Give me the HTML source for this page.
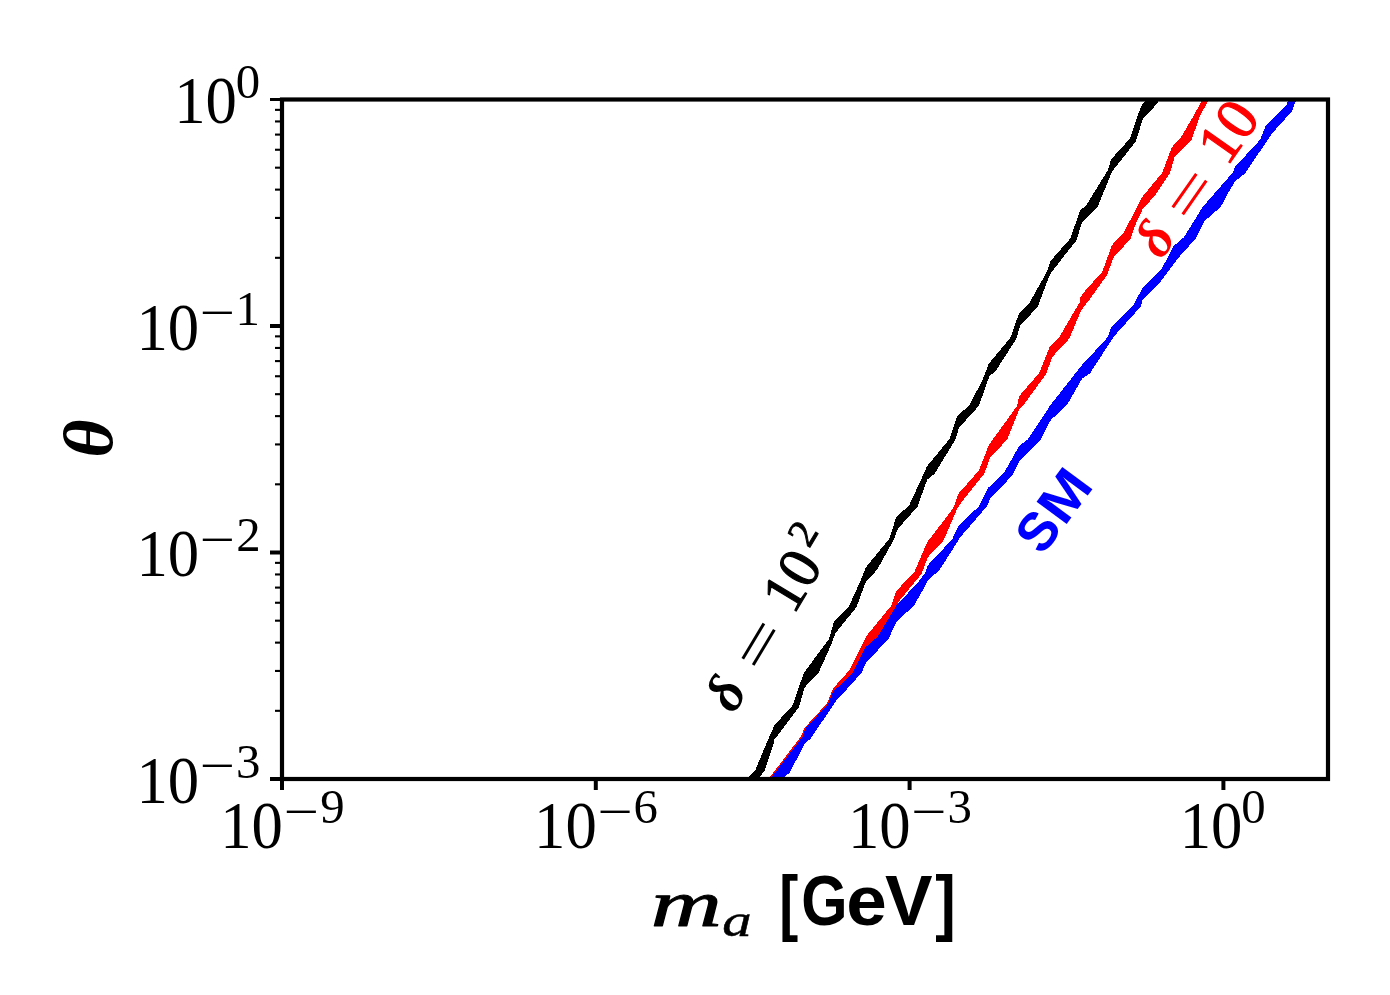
<!DOCTYPE html>
<html lang="en"><head><meta charset="utf-8"><title>theta vs m_a</title>
<style>html,body{margin:0;padding:0;background:#fff;}body{width:1390px;height:995px;overflow:hidden;}svg{display:block;}.r{font-family:"Liberation Serif","DejaVu Serif",serif;}.s{font-family:"Liberation Sans","DejaVu Sans",sans-serif;font-weight:bold;}</style></head><body>
<svg width="1390" height="995" viewBox="0 0 1390 995">
<rect width="1390" height="995" fill="#fff"/>
<defs><clipPath id="ax"><rect x="282" y="99.5" width="1046" height="679.5"/></clipPath></defs>
<g clip-path="url(#ax)">
<path d="M746.5 781.0 L748.9 777.1 L755.4 770.1 L758.6 762.0 L771.5 731.8 L773.2 728.0 L774.8 724.8 L792.6 705.4 L795.3 697.8 L799.5 685.0 L804.3 672.3 L829.1 638.8 L834.0 621.5 L849.1 605.9 L859.5 583.0 L865.9 567.4 L889.6 538.3 L896.1 517.2 L909.1 505.4 L919.5 483.0 L927.0 466.3 L949.6 438.8 L957.2 416.1 L969.1 405.4 L982.0 381.0 L988.8 363.7 L1010.4 337.8 L1019.0 313.3 L1028.3 304.7 L1046.3 273.0 L1050.6 260.8 L1070.2 238.7 L1080.3 210.0 L1086.0 205.6 L1108.1 169.8 L1110.9 159.5 L1129.9 138.7 L1137.8 115.0 L1142.3 104.2 L1144.5 101.8 L1147.0 96.0 L1161.0 96.0 L1158.1 101.8 L1156.7 104.2 L1143.0 118.6 L1135.7 141.6 L1111.9 171.8 L1097.6 207.1 L1081.7 222.9 L1076.7 240.2 L1063.0 257.4 L1049.9 274.5 L1037.7 306.8 L1020.4 325.5 L1016.1 339.2 L995.3 371.6 L989.5 375.9 L978.8 405.9 L958.8 428.0 L955.6 439.3 L934.5 473.9 L927.5 479.3 L925.2 484.9 L917.7 506.4 L897.7 529.1 L894.0 539.3 L877.2 569.6 L866.4 581.4 L865.2 583.2 L856.6 607.0 L835.6 632.9 L830.7 645.8 L818.8 672.3 L804.5 687.6 L799.1 707.0 L784.5 726.4 L774.2 739.9 L773.7 743.7 L764.5 770.6 L760.2 776.6 L757.0 781.0Z" fill="#000" shape-rendering="crispEdges"/>
<path d="M767.0 781.0 L769.9 777.1 L801.2 736.1 L804.5 728.0 L827.1 703.2 L832.5 689.7 L834.5 686.8 L849.1 670.6 L866.3 636.1 L891.1 605.9 L896.0 591.3 L914.5 571.7 L926.9 542.6 L953.3 508.1 L958.2 494.0 L978.8 470.6 L989.0 444.7 L1017.1 405.9 L1019.2 396.2 L1039.1 373.0 L1049.9 346.4 L1059.3 337.1 L1079.7 302.2 L1080.3 297.6 L1083.2 293.0 L1102.4 271.6 L1111.9 245.2 L1123.5 233.0 L1142.2 197.0 L1162.3 172.6 L1171.7 147.4 L1181.0 137.3 L1194.0 115.0 L1201.3 101.8 L1204.5 96.0 L1211.0 96.0 L1207.8 101.8 L1200.4 115.0 L1191.1 140.9 L1174.5 157.4 L1170.2 172.6 L1155.1 195.6 L1142.9 208.5 L1135.0 225.8 L1130.6 238.7 L1113.2 257.9 L1107.3 274.6 L1090.1 298.8 L1081.2 310.3 L1069.4 338.5 L1052.1 357.2 L1046.3 373.7 L1022.5 406.4 L1019.8 408.1 L1007.4 439.3 L990.1 457.7 L984.2 473.9 L961.9 501.6 L957.1 509.1 L953.8 516.7 L943.6 540.4 L927.9 557.2 L921.5 573.9 L898.7 601.6 L896.5 605.9 L896.2 612.4 L881.7 636.7 L872.5 644.7 L869.2 647.4 L857.4 671.7 L842.3 686.8 L837.6 690.3 L832.2 703.7 L809.5 728.6 L806.3 737.2 L775.5 777.0 L772.5 781.0Z" fill="#f00" shape-rendering="crispEdges"/>
<path d="M768.5 781.0 L771.5 777.0 L802.3 737.2 L805.5 728.6 L828.2 703.7 L833.6 690.3 L838.3 686.8 L853.4 671.7 L865.2 647.4 L868.5 644.7 L877.7 636.7 L892.2 612.4 L896.5 605.4 L918.1 582.2 L925.2 572.8 L927.9 565.2 L952.2 539.3 L958.2 526.4 L979.2 505.9 L988.4 487.6 L1004.7 471.7 L1019.2 445.8 L1027.9 439.3 L1036.9 425.6 L1050.3 405.3 L1080.5 366.8 L1085.3 361.2 L1103.4 342.2 L1108.2 336.3 L1111.1 327.0 L1133.4 305.4 L1142.7 287.4 L1161.0 270.0 L1173.8 245.9 L1183.9 237.3 L1202.6 207.1 L1232.8 172.6 L1235.1 166.8 L1260.3 139.5 L1265.3 126.5 L1286.2 105.7 L1287.6 101.8 L1289.5 96.0 L1297.5 96.0 L1295.5 101.8 L1291.9 111.4 L1271.8 133.7 L1245.2 173.3 L1235.1 181.2 L1227.1 194.9 L1220.6 207.1 L1204.7 220.8 L1196.1 238.0 L1178.8 257.4 L1160.0 282.4 L1142.7 299.6 L1140.6 306.8 L1114.0 336.3 L1090.0 373.3 L1082.2 378.5 L1067.1 404.8 L1059.3 412.6 L1051.1 419.5 L1047.7 425.6 L1040.8 439.3 L1020.3 459.9 L1013.3 473.9 L1002.0 486.8 L990.0 498.9 L987.3 505.9 L960.3 537.2 L939.8 569.6 L927.4 580.9 L924.7 586.8 L913.8 605.9 L897.1 621.0 L887.9 639.9 L866.3 662.0 L861.5 672.8 L849.1 686.8 L836.3 700.5 L810.9 738.3 L804.5 744.2 L789.9 772.3 L784.5 777.1 L780.0 781.0Z" fill="#00f" shape-rendering="crispEdges"/>
<g transform="translate(736.50,710.50) rotate(-59)" fill="#000" color="#000"><text class="r"><tspan x="-4.88" y="0.00" font-size="55" font-style="italic" font-weight="bold">δ</tspan> <tspan x="43.29" y="4.80" font-size="60.7" textLength="49.73" lengthAdjust="spacingAndGlyphs">=</tspan> <tspan x="110.86" y="0.00" font-size="59.3" textLength="58.35" lengthAdjust="spacingAndGlyphs" stroke="currentColor" stroke-width="1.1" stroke-linejoin="round">10</tspan><tspan x="175.72" y="-21.00" font-size="40.5" stroke="currentColor" stroke-width="0.9" stroke-linejoin="round">2</tspan></text></g>
<g transform="translate(1162.90,258.70) rotate(-55)" fill="#f00" color="#f00"><text class="r"><tspan x="-2.38" y="0.00" font-size="55" font-style="italic" font-weight="bold">δ</tspan> <tspan x="43.29" y="4.80" font-size="60.7" textLength="49.73" lengthAdjust="spacingAndGlyphs">=</tspan> <tspan x="111.71" y="0.00" font-size="59.3" textLength="60.07" lengthAdjust="spacingAndGlyphs" stroke="currentColor" stroke-width="1.1" stroke-linejoin="round">10</tspan></text></g>
<g transform="translate(1045.00,553.10) rotate(-53.5)" fill="#00f" color="#00f"><text class="s"><tspan x="-4.14" y="0.00" font-size="54.5" textLength="35.41" lengthAdjust="spacingAndGlyphs">S</tspan><tspan x="32.26" y="0.00" font-size="54.5" textLength="51.48" lengthAdjust="spacingAndGlyphs">M</tspan></text></g>
</g>
<g stroke="#000" fill="none">
<line x1="270" x2="282" y1="99.50" y2="99.50" stroke-width="3"/>
<line x1="270" x2="282" y1="326.00" y2="326.00" stroke-width="4"/>
<line x1="270" x2="282" y1="552.50" y2="552.50" stroke-width="4"/>
<line x1="270" x2="282" y1="779.00" y2="779.00" stroke-width="4"/>
<line x1="275" x2="282" y1="257.82" y2="257.82" stroke-width="2.1"/>
<line x1="275" x2="282" y1="217.93" y2="217.93" stroke-width="2.1"/>
<line x1="275" x2="282" y1="189.63" y2="189.63" stroke-width="2.1"/>
<line x1="275" x2="282" y1="167.68" y2="167.68" stroke-width="2.1"/>
<line x1="275" x2="282" y1="149.75" y2="149.75" stroke-width="2.1"/>
<line x1="275" x2="282" y1="134.59" y2="134.59" stroke-width="2.1"/>
<line x1="275" x2="282" y1="121.45" y2="121.45" stroke-width="2.1"/>
<line x1="275" x2="282" y1="109.86" y2="109.86" stroke-width="2.1"/>
<line x1="275" x2="282" y1="484.32" y2="484.32" stroke-width="2.1"/>
<line x1="275" x2="282" y1="444.43" y2="444.43" stroke-width="2.1"/>
<line x1="275" x2="282" y1="416.13" y2="416.13" stroke-width="2.1"/>
<line x1="275" x2="282" y1="394.18" y2="394.18" stroke-width="2.1"/>
<line x1="275" x2="282" y1="376.25" y2="376.25" stroke-width="2.1"/>
<line x1="275" x2="282" y1="361.09" y2="361.09" stroke-width="2.1"/>
<line x1="275" x2="282" y1="347.95" y2="347.95" stroke-width="2.1"/>
<line x1="275" x2="282" y1="336.36" y2="336.36" stroke-width="2.1"/>
<line x1="275" x2="282" y1="710.82" y2="710.82" stroke-width="2.1"/>
<line x1="275" x2="282" y1="670.93" y2="670.93" stroke-width="2.1"/>
<line x1="275" x2="282" y1="642.63" y2="642.63" stroke-width="2.1"/>
<line x1="275" x2="282" y1="620.68" y2="620.68" stroke-width="2.1"/>
<line x1="275" x2="282" y1="602.75" y2="602.75" stroke-width="2.1"/>
<line x1="275" x2="282" y1="587.59" y2="587.59" stroke-width="2.1"/>
<line x1="275" x2="282" y1="574.45" y2="574.45" stroke-width="2.1"/>
<line x1="275" x2="282" y1="562.86" y2="562.86" stroke-width="2.1"/>
<line x1="282.00" x2="282.00" y1="779" y2="790" stroke-width="4"/>
<line x1="595.80" x2="595.80" y1="779" y2="790" stroke-width="4"/>
<line x1="909.60" x2="909.60" y1="779" y2="790" stroke-width="4"/>
<line x1="1223.40" x2="1223.40" y1="779" y2="790" stroke-width="4"/>
</g>
<rect x="282.0" y="99.5" width="1046.0" height="679.5" fill="none" stroke="#000" stroke-width="4.2"/>
<g fill="#000" color="#000">
<text class="r"><tspan x="174.18" y="123.10" font-size="68.2" textLength="62.70" lengthAdjust="spacingAndGlyphs">10</tspan><tspan x="235.75" y="98.40" font-size="48.8">0</tspan></text>
<text class="r"><tspan x="136.38" y="349.60" font-size="68.2" textLength="62.70" lengthAdjust="spacingAndGlyphs">10</tspan><tspan x="199.77" y="329.40" font-size="48.8" textLength="35.29" lengthAdjust="spacingAndGlyphs">−</tspan><tspan x="235.42" y="324.90" font-size="48.8">1</tspan></text>
<text class="r"><tspan x="136.38" y="576.10" font-size="68.2" textLength="62.70" lengthAdjust="spacingAndGlyphs">10</tspan><tspan x="199.77" y="555.90" font-size="48.8" textLength="35.29" lengthAdjust="spacingAndGlyphs">−</tspan><tspan x="236.37" y="551.40" font-size="48.8">2</tspan></text>
<text class="r"><tspan x="136.38" y="802.60" font-size="68.2" textLength="62.70" lengthAdjust="spacingAndGlyphs">10</tspan><tspan x="199.77" y="782.40" font-size="48.8" textLength="35.29" lengthAdjust="spacingAndGlyphs">−</tspan><tspan x="235.88" y="777.90" font-size="48.8">3</tspan></text>
<text class="r"><tspan x="220.28" y="847.90" font-size="68.2" textLength="62.70" lengthAdjust="spacingAndGlyphs">10</tspan><tspan x="283.67" y="827.70" font-size="48.8" textLength="35.29" lengthAdjust="spacingAndGlyphs">−</tspan><tspan x="320.22" y="823.20" font-size="48.8">9</tspan></text>
<text class="r"><tspan x="534.08" y="847.90" font-size="68.2" textLength="62.70" lengthAdjust="spacingAndGlyphs">10</tspan><tspan x="597.47" y="827.70" font-size="48.8" textLength="35.29" lengthAdjust="spacingAndGlyphs">−</tspan><tspan x="633.48" y="823.20" font-size="48.8">6</tspan></text>
<text class="r"><tspan x="847.88" y="847.90" font-size="68.2" textLength="62.70" lengthAdjust="spacingAndGlyphs">10</tspan><tspan x="911.27" y="827.70" font-size="48.8" textLength="35.29" lengthAdjust="spacingAndGlyphs">−</tspan><tspan x="947.38" y="823.20" font-size="48.8">3</tspan></text>
<text class="r"><tspan x="1179.78" y="847.90" font-size="68.2" textLength="62.70" lengthAdjust="spacingAndGlyphs">10</tspan><tspan x="1241.35" y="823.20" font-size="48.8">0</tspan></text>
<text class="r" font-style="italic" font-weight="bold" font-size="69.8" transform="translate(111.6,457.81) rotate(-90) scale(1.06,1)">θ</text>
<text class="r"><tspan x="650.86" y="925.50" font-size="65.2" font-style="italic" textLength="71.10" lengthAdjust="spacingAndGlyphs" stroke="currentColor" stroke-width="0.9" stroke-linejoin="round">m</tspan><tspan x="722.24" y="936.40" font-size="47.2" font-style="italic" textLength="29.40" lengthAdjust="spacingAndGlyphs" stroke="currentColor" stroke-width="0.5" stroke-linejoin="round">a</tspan></text>
<text class="s"><tspan x="779.21" y="926.80" font-size="73" textLength="18.98" lengthAdjust="spacingAndGlyphs">[</tspan><tspan x="801.36" y="925.30" font-size="69.5" textLength="46.32" lengthAdjust="spacingAndGlyphs">G</tspan><tspan x="846.26" y="925.30" font-size="69.5" textLength="40.53" lengthAdjust="spacingAndGlyphs">e</tspan><tspan x="885.10" y="925.30" font-size="69.5" textLength="47.60" lengthAdjust="spacingAndGlyphs">V</tspan><tspan x="935.26" y="926.80" font-size="73" textLength="20.48" lengthAdjust="spacingAndGlyphs">]</tspan></text>
</g>
</svg></body></html>
